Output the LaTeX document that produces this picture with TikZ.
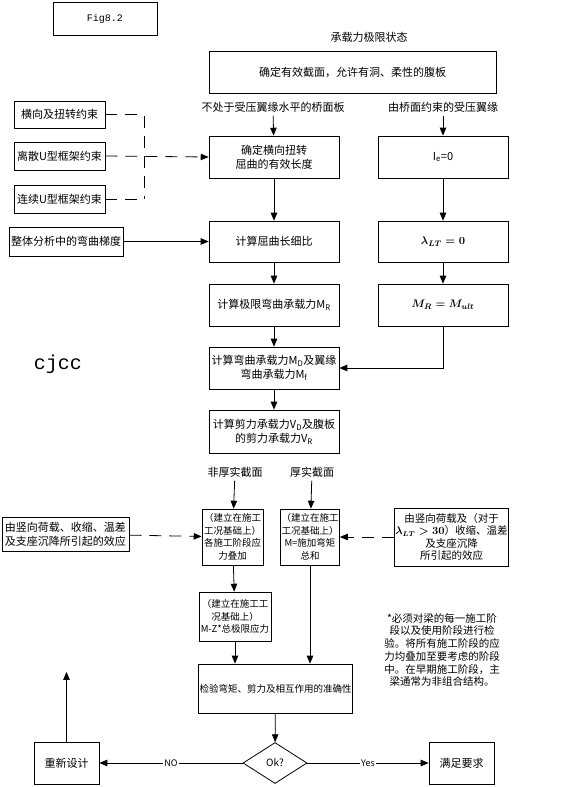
\documentclass[tikz,border=0pt]{standalone}
\usepackage{amsmath}
\usepackage{fontspec}
\setmainfont{Noto Sans CJK SC}
\newfontfamily\monofont{Liberation Mono}
\usetikzlibrary{arrows,shapes.geometric,positioning}

\tikzset{
    box/.style={draw,line width=0.8pt,align=center,inner sep=1pt,font=\fontsize{11}{14}\selectfont},
    smallbox/.style={box,font=\fontsize{9.5}{12.5}\selectfont},
    lbl/.style={font=\fontsize{11}{14}\selectfont},
    dashline/.style={line width=0.8pt,dash pattern=on 12pt off 8pt},
    flow/.style={line width=0.8pt,-triangle 45},
}

\begin{document}
\begin{tikzpicture}[x=1pt,y=-1pt]
    \useasboundingbox (0,0) rectangle (568,787);
    % header
    \node[box,minimum width=104,minimum height=33,font=\monofont\fontsize{10}{12}\selectfont] (fig) at (105,18.5) {Fig8.2};
    \node[lbl] (uls) at (369,37) {承载力极限状态};
    \node[box,minimum width=287,minimum height=42] (sect) at (352.5,72) {确定有效截面，允许有洞、柔性的腹板};
    \node[lbl] (deck) at (273,107) {不处于受压翼缘水平的桥面板};
    \node[lbl] (flange) at (443,107) {由桥面约束的受压翼缘};
    % left column of restraints
    \node[box,minimum width=91,minimum height=27] (lat) at (59.5,114.5) {横向及扭转约束};
    \node[box,minimum width=91,minimum height=28] (udis) at (59.5,156) {离散U型框架约束};
    \node[box,minimum width=91,minimum height=28] (ucont) at (59.5,199) {连续U型框架约束};
    \node[box,minimum width=114,minimum height=29] (grad) at (66,241.5) {整体分析中的弯曲梯度};
    \coordinate (bus) at (144,0);
    % main column
    \node[box,minimum width=130,minimum height=42] (leff) at (274,157) {确定横向扭转\\屈曲的有效长度};
    \node[box,minimum width=130,minimum height=41] (slend) at (274,241.5) {计算屈曲长细比};
    \node[box,minimum width=130,minimum height=42] (mr) at (274,305) {计算极限弯曲承载力M\textsubscript{R}};
    \node[box,minimum width=130,minimum height=42] (md) at (274,368) {计算弯曲承载力M\textsubscript{D}及翼缘\\弯曲承载力M\textsubscript{f}};
    \node[box,minimum width=130,minimum height=43] (vd) at (274,431.5) {计算剪力承载力V\textsubscript{D}及腹板\\的剪力承载力V\textsubscript{R}};
    % right column
    \node[box,minimum width=130,minimum height=42] (iw) at (443,157) {I\textsubscript{e}=0};
    \node[box,minimum width=130,minimum height=41] (lam) at (443,241.5) {$\boldsymbol{\lambda_{LT} = 0}$};
    \node[box,minimum width=130,minimum height=42] (mult) at (443,305) {$\boldsymbol{M_R = M_{ult}}$};
    \node[font=\monofont\fontsize{20}{24}\selectfont] (cjcc) at (58,364) {cjcc};
    % section classes
    \node[lbl] (ncs) at (235,472) {非厚实截面};
    \node[lbl] (cs) at (312,472) {厚实截面};
    \node[smallbox,minimum width=61,minimum height=56] (stg) at (232.5,537) {（建立在施工\\工况基础上）\\各施工阶段应\\力叠加};
    \node[smallbox,minimum width=57,minimum height=56] (msum) at (310,537) {（建立在施工\\工况基础上）\\M=施加弯矩\\总和};
    \node[box,minimum width=127,minimum height=34] (effl) at (65.5,534) {由竖向荷载、收缩、温差\\及支座沉降所引起的效应};
    \node[box,minimum width=111,minimum height=58,font=\fontsize{10.5}{12.5}\selectfont] (effr) at (451.5,537) {由竖向荷载及（对于\\$\boldsymbol{\lambda_{LT}>30}$）收缩、温差\\及支座沉降\\所引起的效应};
    \node[smallbox,minimum width=72,minimum height=49] (mz) at (235,616.5) {（建立在施工工\\况基础上）\\M-Z*总极限应力};
    \node[align=center,font=\fontsize{10.5}{12.7}\selectfont] (note) at (442,650) {*必须对梁的每一施工阶\\段以及使用阶段进行检\\验。将所有施工阶段的应\\力均叠加至要考虑的阶段\\中。在早期施工阶段，主\\梁通常为非组合结构。};
    % check and outcome
    \node[smallbox,minimum width=153,minimum height=49] (chk) at (275.5,688.5) {检验弯矩、剪力及相互作用的准确性};
    \node[draw,line width=0.8pt,diamond,aspect=1.56,minimum width=64,minimum height=41,inner sep=0pt,font=\fontsize{10}{12}\selectfont] (ok) at (275,763) {Ok?};
    \node[box,minimum width=65,minimum height=42] (redo) at (66.5,763) {重新设计};
    \node[box,minimum width=65,minimum height=42] (pass) at (461.5,763) {满足要求};
    \coordinate (back) at (66.5,672);
    % connectors
    \draw[flow] (deck) -- (leff);
    \draw[flow] (flange) -- (iw);
    \draw[dashline] (lat.east) -- (lat.east -| bus) -- (ucont.east -| bus);
    \draw[dashline] (ucont.east) -- (ucont.east -| bus);
    \draw[dashline,-triangle 45] (udis.east) -- (leff.west);
    \draw[flow] (grad) -- (slend);
    \draw[flow] (leff) -- (slend);
    \draw[flow] (slend) -- (mr);
    \draw[flow] (mr) -- (md);
    \draw[flow] (md) -- (vd);
    \draw[flow] (iw) -- (lam);
    \draw[flow] (lam) -- (mult);
    \draw[flow] (mult.south) |- (md.east);
    \draw[flow] (ncs) -- (stg);
    \draw[flow] (cs) -- (msum);
    \draw[dashline,-triangle 45] (effl) -- (stg);
    \draw[dashline,-triangle 45] (effr) -- (msum);
    \draw[flow] (stg) -- (mz);
    \draw[flow] (mz.south) -- (mz.south |- chk.north);
    \draw[flow] (msum.south) -- (msum.south |- chk.north);
    \draw[flow] (chk) -- (ok);
    \draw[flow] (ok) -- node[fill=white,inner sep=1pt,font=\fontsize{9}{11}\selectfont] {NO} (redo);
    \draw[flow] (ok) -- node[fill=white,inner sep=1pt,font=\fontsize{9}{11}\selectfont] {Yes} (pass);
    \draw[flow] (redo) -- (back);
\end{tikzpicture}
\end{document}
